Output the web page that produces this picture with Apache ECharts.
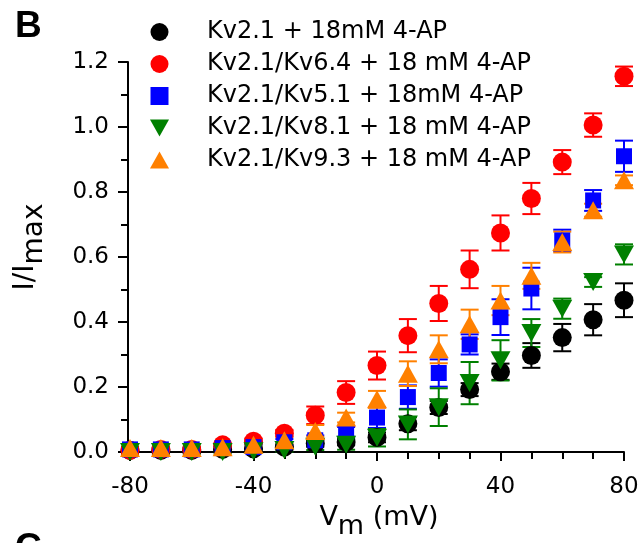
<!DOCTYPE html>
<html>
<head>
<meta charset="utf-8">
<title>I/Imax - Vm</title>
<script src="https://cdn.jsdelivr.net/npm/echarts@6/dist/echarts.min.js"></script>
<style>
  html, body { margin: 0; padding: 0; background: #fff; }
  #main { width: 642px; height: 543px; }
</style>
</head>
<body>
<div id="main"></div>
<script>
// membrane potential steps (mV)
var voltages = [-80, -70, -60, -50, -40, -30, -20, -10, 0, 10, 20, 30, 40, 50, 60, 70, 80];

// I/Imax, with SEM
var kv21      = [0.005, 0.005, 0.005, 0.008, 0.010, 0.015, 0.026, 0.031, 0.045, 0.087, 0.137, 0.192, 0.247, 0.297, 0.352, 0.407, 0.467];
var kv21Err   = [0, 0, 0, 0, 0, 0, 0.010, 0.010, 0.015, 0.020, 0.020, 0.020, 0.025, 0.038, 0.042, 0.048, 0.052];
var kv64      = [0.005, 0.008, 0.008, 0.022, 0.033, 0.058, 0.113, 0.183, 0.266, 0.358, 0.457, 0.562, 0.674, 0.780, 0.892, 1.006, 1.156];
var kv64Err   = [0.004, 0.004, 0.004, 0.005, 0.008, 0.010, 0.027, 0.035, 0.043, 0.051, 0.054, 0.058, 0.054, 0.048, 0.037, 0.036, 0.030];
var kv51      = [0.008, 0.008, 0.008, 0.012, 0.015, 0.030, 0.036, 0.062, 0.106, 0.169, 0.243, 0.331, 0.415, 0.503, 0.651, 0.774, 0.910];
var kv51Err   = [0.005, 0.005, 0.005, 0.005, 0.008, 0.010, 0.015, 0.015, 0.032, 0.036, 0.042, 0.031, 0.055, 0.064, 0.033, 0.032, 0.048];
var kv81      = [0.000, 0.000, 0.000, 0.000, 0.002, 0.006, 0.016, 0.022, 0.044, 0.085, 0.138, 0.212, 0.282, 0.366, 0.441, 0.523, 0.608];
var kv81Err   = [0.005, 0.005, 0.005, 0.005, 0.005, 0.005, 0.010, 0.015, 0.027, 0.046, 0.058, 0.065, 0.062, 0.043, 0.031, 0.015, 0.031];
var kv93      = [0.012, 0.012, 0.012, 0.015, 0.022, 0.036, 0.065, 0.106, 0.162, 0.241, 0.316, 0.393, 0.466, 0.542, 0.646, 0.744, 0.836];
var kv93Err   = [0.005, 0.005, 0.005, 0.005, 0.008, 0.010, 0.018, 0.015, 0.026, 0.038, 0.043, 0.045, 0.045, 0.040, 0.032, 0.020, 0.015];

var names = [
    'Kv2.1 + 18mM 4-AP',
    'Kv2.1/Kv6.4 + 18 mM 4-AP',
    'Kv2.1/Kv5.1 + 18mM 4-AP',
    'Kv2.1/Kv8.1 + 18 mM 4-AP',
    'Kv2.1/Kv9.3 + 18 mM 4-AP'
];
var font = 'DejaVu Sans';
var downTri = 'path://M0,0L20,0L10,18Z';
var upTri = 'path://M10,0L20,18L0,18Z';

var groups = [
    { name: names[0], y: kv21, err: kv21Err, color: '#000000', symbol: 'circle', size: 19, icon: 'circle' },
    { name: names[1], y: kv64, err: kv64Err, color: '#ff0000', symbol: 'circle', size: 19, icon: 'circle' },
    { name: names[2], y: kv51, err: kv51Err, color: '#0000ff', symbol: 'rect', size: 16, icon: 'path://M0,0L16,0L16,16L0,16Z' },
    { name: names[3], y: kv81, err: kv81Err, color: '#008000', symbol: downTri, size: [20, 18], icon: downTri },
    { name: names[4], y: kv93, err: kv93Err, color: '#ff8000', symbol: upTri, size: [20, 18], icon: upTri }
];

function errorBars(color) {
    return function (params, api) {
        var x = api.value(0), y = api.value(1), e = api.value(2);
        var top = api.coord([x, y + e]);
        var bot = api.coord([x, y - e]);
        var half = 9;
        return {
            type: 'group',
            children: [
                { type: 'line', shape: { x1: top[0], y1: top[1], x2: bot[0], y2: bot[1] }, style: { stroke: color, lineWidth: 2 } },
                { type: 'line', shape: { x1: top[0] - half, y1: top[1], x2: top[0] + half, y2: top[1] }, style: { stroke: color, lineWidth: 2 } },
                { type: 'line', shape: { x1: bot[0] - half, y1: bot[1], x2: bot[0] + half, y2: bot[1] }, style: { stroke: color, lineWidth: 2 } }
            ]
        };
    };
}

var series = [];
groups.forEach(function (g) {
    var pts = voltages.map(function (v, i) { return [v, g.y[i]]; });
    var bars = voltages.map(function (v, i) { return [v, g.y[i], g.err[i]]; });
    series.push({
        name: g.name + ' SEM',
        type: 'custom',
        renderItem: errorBars(g.color),
        encode: { x: 0, y: 1 },
        clip: false,
        silent: true,
        data: bars
    });
    series.push({
        name: g.name,
        type: 'scatter',
        symbol: g.symbol,
        symbolSize: g.size,
        clip: false,
        itemStyle: { color: g.color, opacity: 1 },
        data: pts
    });
});

var myChart = echarts.init(document.getElementById('main'));
myChart.setOption({
    animation: false,
    backgroundColor: '#ffffff',
    grid: { left: 130, right: 18, top: 62, bottom: 91, containLabel: false, outerBoundsMode: 'none' },
    legend: {
        data: groups.map(function (g) { return { name: g.name, icon: g.icon }; }),
        orient: 'vertical',
        left: 150,
        top: 20,
        padding: 0,
        itemWidth: 19,
        itemHeight: 18,
        itemGap: 8,
        formatter: function (n) { return '{s|}' + n; },
        textStyle: {
            fontFamily: font, fontSize: 24, color: '#000', lineHeight: 24,
            rich: { s: { width: 33 } }
        }
    },
    xAxis: {
        type: 'value',
        min: -80, max: 80, interval: 40,
        axisLine: { onZero: false, lineStyle: { color: '#000', width: 2 } },
        axisTick: { length: 9, lineStyle: { color: '#000', width: 2 } },
        minorTick: { show: true, splitNumber: 4, length: 7, lineStyle: { color: '#000', width: 2 } },
        splitLine: { show: false },
        axisLabel: { margin: 24, fontFamily: font, fontSize: 23, color: '#000' }
    },
    yAxis: {
        type: 'value',
        min: 0, max: 1.2, interval: 0.2,
        offset: 2,
        axisLine: { show: true, onZero: false, lineStyle: { color: '#000', width: 2 } },
        axisTick: { show: true, length: 10, lineStyle: { color: '#000', width: 2 } },
        minorTick: { show: true, splitNumber: 2, length: 7, lineStyle: { color: '#000', width: 2 } },
        splitLine: { show: false },
        axisLabel: {
            margin: 19, fontFamily: font, fontSize: 23, color: '#000',
            formatter: function (v) { return v.toFixed(1); }
        }
    },
    graphic: [
        {
            type: 'text', left: 15, top: 8,
            style: { text: 'B', font: 'bold 37px "Liberation Sans"', fill: '#000' }
        },
        {
            type: 'text', left: 15, top: 530,
            style: { text: 'C', font: 'bold 37px "Liberation Sans"', fill: '#000' }
        },
        {
            type: 'text', x: 30, y: 247, rotation: Math.PI / 2,
            style: {
                text: '{a|I/I}{b|max}',
                align: 'center', verticalAlign: 'middle',
                rich: {
                    a: { fontFamily: font, fontSize: 28, fill: '#000', verticalAlign: 'top' },
                    b: { fontFamily: font, fontSize: 28, fill: '#000', verticalAlign: 'top', padding: [9, 0, 0, 0] }
                }
            }
        },
        {
            type: 'text', x: 379, y: 504,
            style: {
                text: '{a|V}{b|m}{a| (mV)}',
                align: 'center', verticalAlign: 'top',
                rich: {
                    a: { fontFamily: font, fontSize: 27, fill: '#000', verticalAlign: 'top' },
                    b: { fontFamily: font, fontSize: 27, fill: '#000', verticalAlign: 'top', padding: [9, 0, 0, 0] }
                }
            }
        }
    ],
    series: series
});
</script>
</body>
</html>
